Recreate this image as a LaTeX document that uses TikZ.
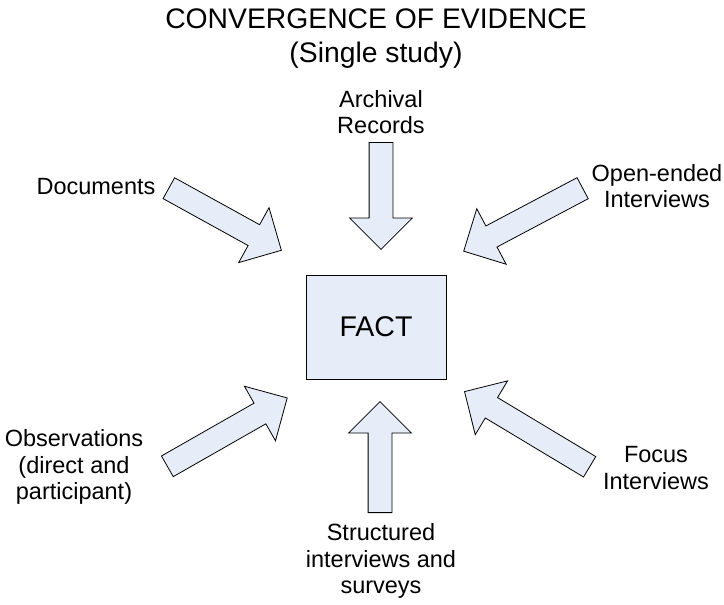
\documentclass[tikz,border=0pt]{standalone}
\usepackage{fontspec}
\setmainfont{Liberation Sans}
\usetikzlibrary{shapes.arrows}
\definecolor{boxfill}{HTML}{E6ECF8}
\tikzset{
  flow/.style={single arrow, draw=black, fill=boxfill, line width=0.8pt,
    inner xsep=0pt, inner ysep=11.5pt, single arrow head extend=19.5pt,
    single arrow tip angle=90, anchor=tail},
  lbl/.style={align=center, inner sep=0pt,
    font=\fontsize{23.5}{26.5}\selectfont},
  factbox/.style={draw=black, fill=boxfill, line width=0.8pt,
    minimum width=140pt, minimum height=104pt, inner sep=0pt,
    font=\fontsize{28.5}{32}\selectfont}
}
\begin{document}
\begin{tikzpicture}[x=1pt,y=-1pt]
\useasboundingbox (0,0) rectangle (724,605);

% heading
\node[align=center, inner sep=0pt, font=\fontsize{28.3}{34}\selectfont]
  (title) at (376,39) {CONVERGENCE OF EVIDENCE\\(Single study)};

% central box
\node[factbox] (fact) at (376,327) {FACT};

% sources
\node[lbl] (archival) at (381,112) {Archival\\Records};
\node[lbl] (documents) at (96,187) {Documents};
\node[lbl] (openended) at (657,186) {Open-ended\\Interviews};
\node[lbl] (observations) at (74,467) {Observations\\(direct and\\participant)};
\node[lbl] (focus) at (656,468) {Focus\\Interviews};
\node[lbl] (structured) at (381,561) {Structured\\interviews and\\surveys};

% block arrows pointing at the fact
\node[flow, minimum height=107pt, rotate=-90] (aArchival) at (381,142) {};
\node[flow, minimum height=111pt, rotate=90] (aStructured) at (380,513) {};
\node[flow, minimum height=128.5pt, rotate=-28.9] (aDocuments) at (168.5,188) {};
\node[flow, minimum height=134.6pt, rotate=207.9] (aOpen) at (583,188) {};
\node[flow, minimum height=138pt, rotate=29.7] (aObservations) at (167,466.5) {};
\node[flow, minimum height=146pt, rotate=149] (aFocus) at (590,467) {};
\end{tikzpicture}
\end{document}
